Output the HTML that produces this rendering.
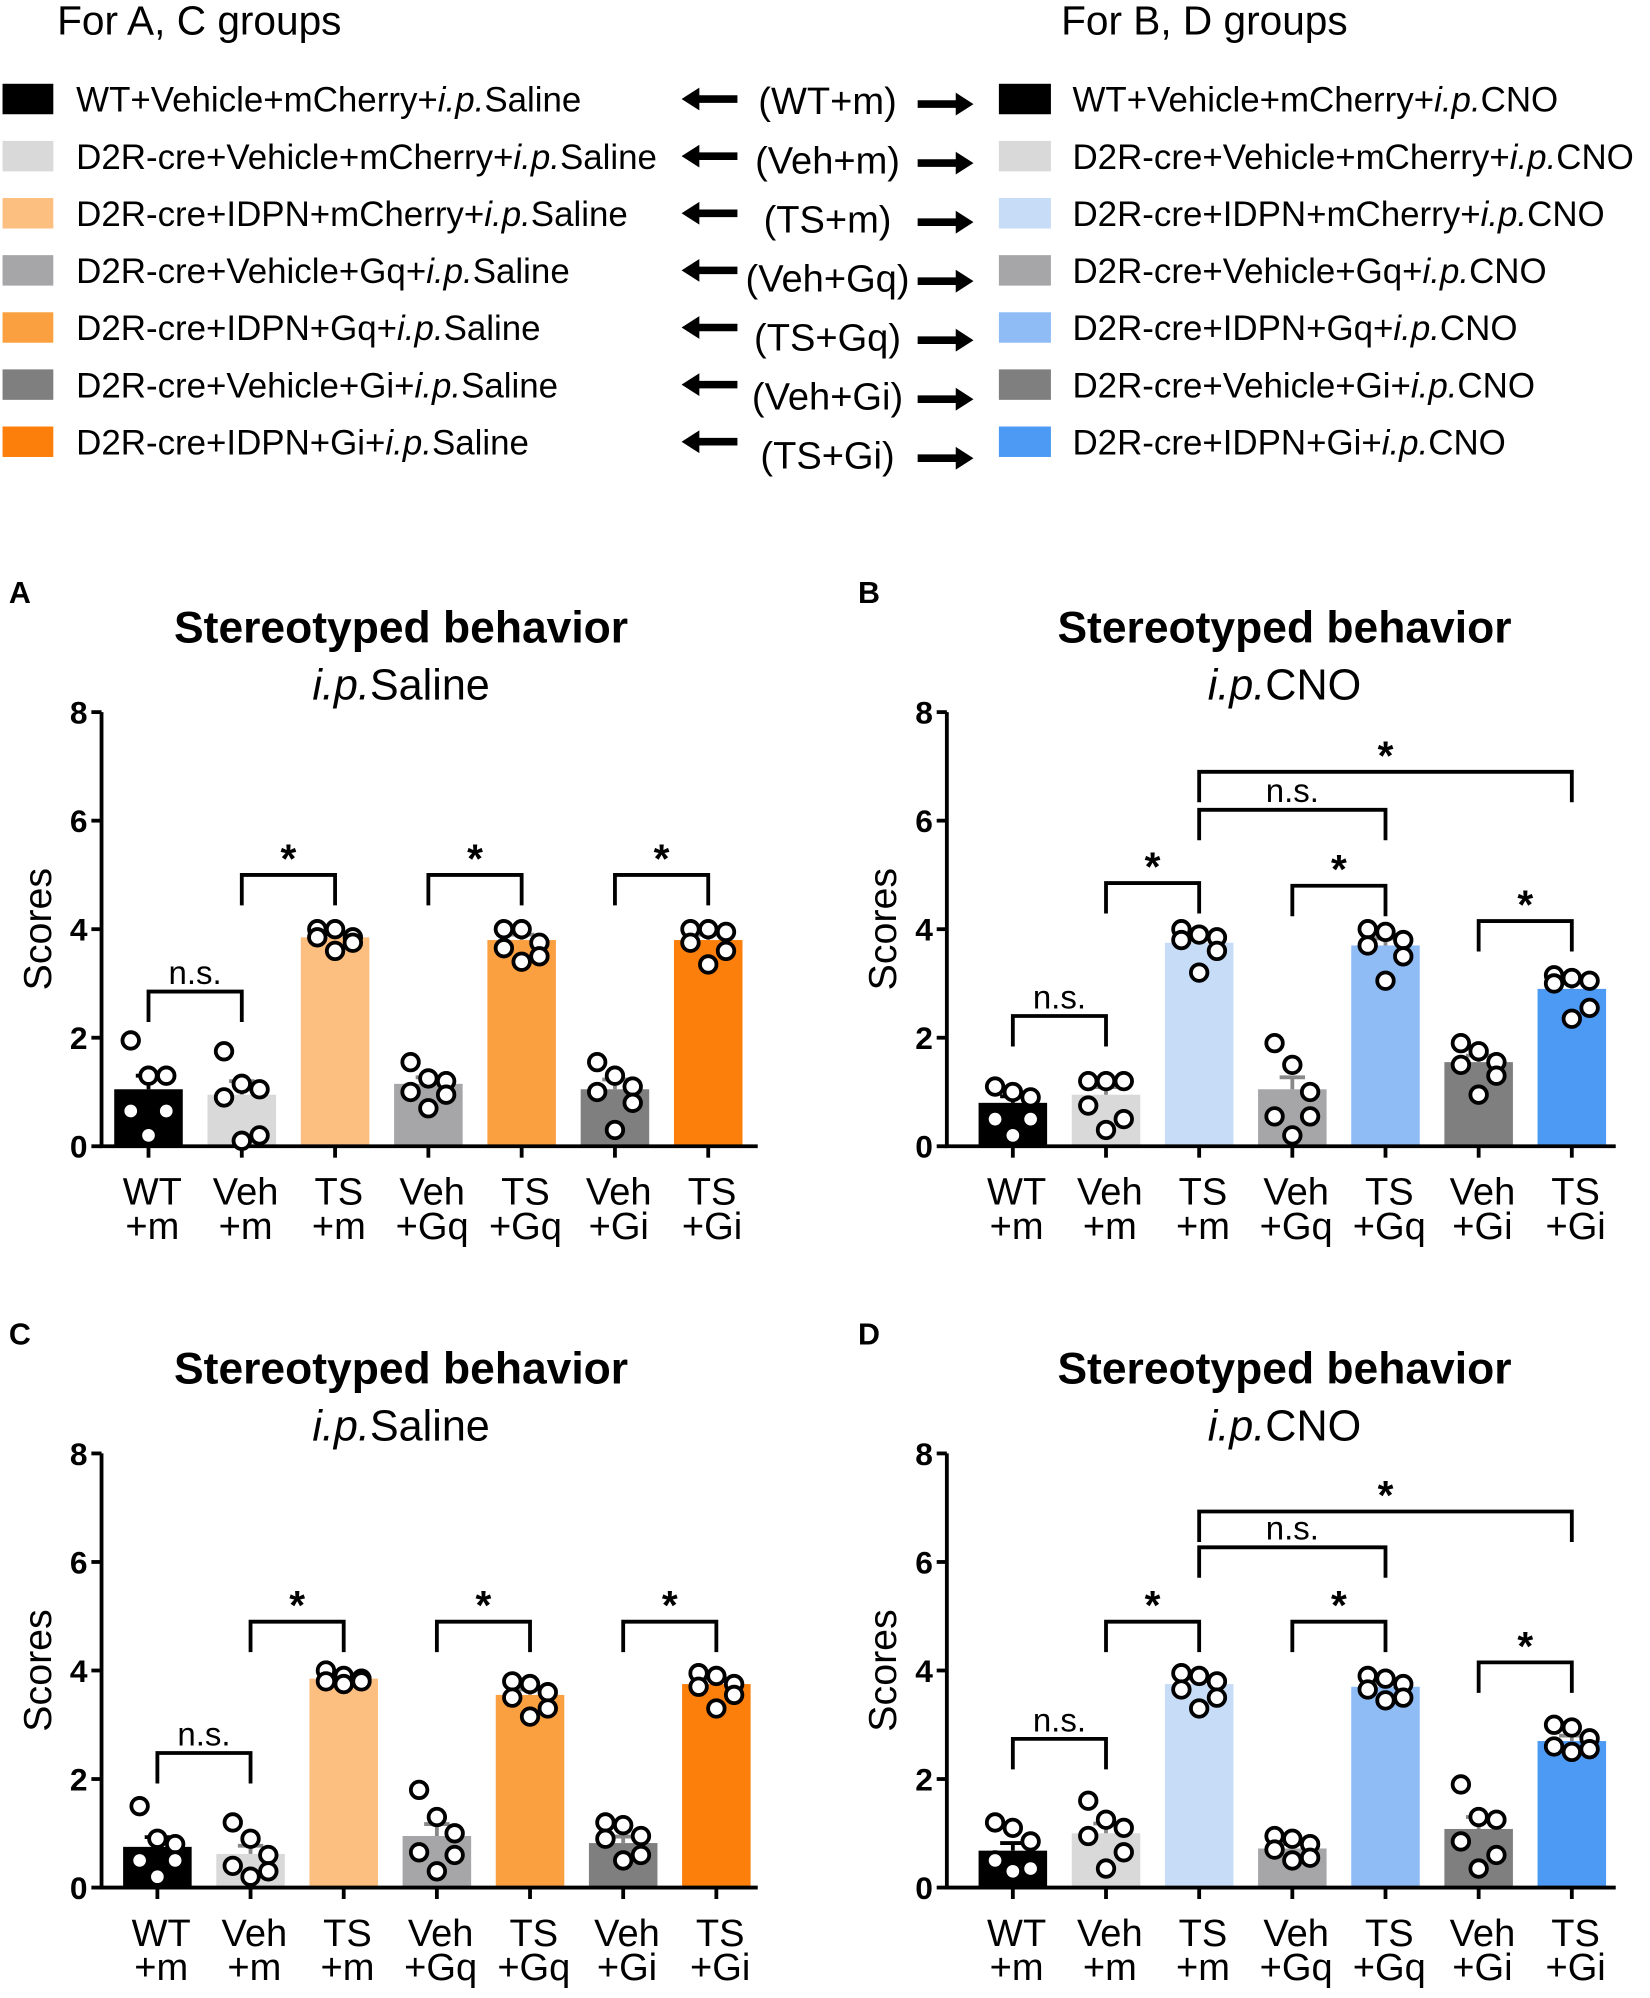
<!DOCTYPE html>
<html><head><meta charset="utf-8"><style>
html,body{margin:0;padding:0;background:#fff}
svg{display:block;font-family:"Liberation Sans",Arial,sans-serif}
</style></head><body>
<svg id="fig" width="1650" height="1998" viewBox="0 0 1300 1574" preserveAspectRatio="none" xmlns="http://www.w3.org/2000/svg">
<g id="legend"></g>
</svg>
<script>
// ---------- data ----------
const categoriesTop = ["WT","Veh","TS","Veh","TS","Veh","TS"];
const categoriesBottom = ["+m","+m","+m","+Gq","+Gq","+Gi","+Gi"];
const yTicks = [0,2,4,6,8];
const salineColors = ["#000000","#d9d9d9","#fcbf80","#a6a6a9","#fba040","#7f7f7f","#fb7f0a"];
const cnoColors = ["#000000","#d9d9d9","#c6dcf7","#a6a6a9","#8fbcf5","#7f7f7f","#4d9af5"];
const legendSaline = ["WT+Vehicle+mCherry+","D2R-cre+Vehicle+mCherry+","D2R-cre+IDPN+mCherry+","D2R-cre+Vehicle+Gq+","D2R-cre+IDPN+Gq+","D2R-cre+Vehicle+Gi+","D2R-cre+IDPN+Gi+"];
const legendMid = ["(WT+m)","(Veh+m)","(TS+m)","(Veh+Gq)","(TS+Gq)","(Veh+Gi)","(TS+Gi)"];

const meansA = [1.05,0.95,3.85,1.15,3.8,1.05,3.8];
const semA = [0.25,0.25,0.06,0.12,0.1,0.18,0.1];
const dotsA = [[1.95,1.3,1.3,0.65,0.65,0.2],[1.75,1.15,1.05,0.9,0.2,0.1],[4.0,4.0,3.85,3.85,3.75,3.6],[1.55,1.25,1.2,1.0,0.95,0.7],[4.0,4.0,3.75,3.65,3.5,3.4],[1.55,1.3,1.1,1.0,0.8,0.3],[4.0,4.0,3.95,3.75,3.6,3.35]];
const bracketsA = [[0,1,2.85,"n.s."],[1,2,5.0,"*"],[3,4,5.0,"*"],[5,6,5.0,"*"]];

const meansB = [0.8,0.95,3.75,1.05,3.7,1.55,2.9];
const semB = [0.12,0.14,0.1,0.22,0.13,0.12,0.12];
const dotsB = [[1.1,1.0,0.9,0.5,0.5,0.2],[1.2,1.2,1.2,0.75,0.5,0.3],[4.0,3.9,3.85,3.8,3.6,3.2],[1.9,1.5,1.0,0.55,0.55,0.2],[4.0,3.95,3.8,3.7,3.5,3.05],[1.9,1.75,1.55,1.5,1.3,0.95],[3.15,3.1,3.05,3.0,2.55,2.35]];
const bracketsB = [[0,1,2.4,"n.s."],[1,2,4.85,"*"],[3,4,4.8,"*"],[5,6,4.15,"*"],[2,4,6.2,"n.s."],[2,6,6.9,"*"]];

const meansC = [0.75,0.62,3.85,0.95,3.55,0.82,3.75];
const semC = [0.18,0.15,0.04,0.22,0.1,0.12,0.1];
const dotsC = [[1.5,0.9,0.8,0.5,0.5,0.2],[1.2,0.9,0.6,0.4,0.3,0.2],[4.0,3.9,3.85,3.8,3.8,3.75],[1.8,1.3,1.0,0.65,0.6,0.3],[3.8,3.75,3.6,3.5,3.3,3.15],[1.2,1.15,0.95,0.9,0.6,0.5],[3.95,3.9,3.75,3.7,3.55,3.3]];
const bracketsC = [[0,1,2.48,"n.s."],[1,2,4.9,"*"],[3,4,4.9,"*"],[5,6,4.9,"*"]];

const meansD = [0.68,1.0,3.75,0.72,3.7,1.08,2.7];
const semD = [0.14,0.18,0.1,0.08,0.08,0.22,0.1];
const dotsD = [[1.2,1.1,0.85,0.5,0.35,0.3],[1.6,1.25,1.1,0.95,0.65,0.35],[3.95,3.9,3.8,3.65,3.5,3.3],[0.95,0.9,0.8,0.7,0.55,0.5],[3.9,3.85,3.75,3.65,3.5,3.45],[1.9,1.3,1.25,0.85,0.6,0.35],[3.0,2.95,2.75,2.6,2.55,2.5]];
const bracketsD = [[0,1,2.74,"n.s."],[1,2,4.9,"*"],[3,4,4.9,"*"],[5,6,4.15,"*"],[2,4,6.27,"n.s."],[2,6,6.93,"*"]];

// ---------- drawing ----------
const NS = "http://www.w3.org/2000/svg";
const svg = document.getElementById("fig");
function mk(tag, attrs, parent, text){
  const e = document.createElementNS(NS, tag);
  for (const k in attrs) e.setAttribute(k, attrs[k]);
  if (text !== undefined) e.textContent = text;
  (parent||svg).appendChild(e);
  return e;
}

// legend
const lg = document.getElementById("legend");
let t = mk("text",{x:45,y:27,"font-size":32},lg,"For A, C groups");


t = mk("text",{x:836,y:27,"font-size":32},lg,"For B, D groups");


for (let i=0;i<7;i++){
  const y = 78 + i*45;
  let r = mk("rect",{x:2,y:y-12,width:40,height:24,fill:salineColors[i]},lg);
  
  
  const tx = mk("text",{x:60,y:y+10,"font-size":27.5},lg);
  
  
  mk("tspan",{},tx,legendSaline[i]);
  mk("tspan",{"font-style":"italic"},tx,"i.p.");
  mk("tspan",{},tx,"Saline");
  r = mk("rect",{x:787,y:y-12,width:41,height:24,fill:cnoColors[i]},lg);
  
  
  const tx2 = mk("text",{x:845,y:y+10,"font-size":27.5},lg);
  
  
  mk("tspan",{},tx2,legendSaline[i]);
  mk("tspan",{"font-style":"italic"},tx2,"i.p.");
  mk("tspan",{},tx2,"CNO");
  const my = y + 2 + i*1.5;
  const m = mk("text",{x:652,y:my+10,"font-size":30,"text-anchor":"middle"},lg,legendMid[i]);
  
  
  const al = mk("path",{d:`M537 ${y} l14 -9 v6 h30 v6 h-30 v6 z`,fill:"#000"},lg);
  
  
  const ar = mk("path",{d:`M767 ${my+2} l-14 -9 v6 h-30 v6 h30 v6 z`,fill:"#000"},lg);
  
  
}

const dotOff = [-14,0,14,-14,14,0];

function panel(cfg){
  const g = mk("g",{});
  
  
  const y0 = cfg.base, unit = 42.75;
  const yS = v => y0 - v*unit;
  const xS = i => cfg.x0 + i*cfg.step;
  let e = mk("text",{x:cfg.lx,y:cfg.base-428,"font-size":24,"font-weight":"bold"},g,cfg.letter);
  
  
  e = mk("text",{x:cfg.tc,y:y0-397,"font-size":35,"font-weight":"bold","text-anchor":"middle"},g,"Stereotyped behavior");
  
  
  e = mk("text",{x:cfg.tc,y:y0-352,"font-size":34,"text-anchor":"middle"},g);
  
  
  mk("tspan",{"font-style":"italic"},e,"i.p.");
  mk("tspan",{},e,cfg.sub);
  e = mk("text",{x:0,y:0,"font-size":31,"text-anchor":"middle",transform:`translate(${cfg.ax-40},${yS(4.0)}) rotate(-90)`},g,"Scores");
  
  
  // bars
  cfg.means.forEach((v,i)=>{
    const b = mk("rect",{x:xS(i)-27,y:yS(v),width:54,height:v*unit,fill:cfg.colors[i]},g);
    
    
    const ec = i===0 ? "#000" : "#888";
    const er = mk("path",{d:`M${xS(i)} ${yS(v)} V${yS(v+cfg.sem[i])} M${xS(i)-10} ${yS(v+cfg.sem[i])} h20`,stroke:ec,"stroke-width":3,fill:"none"},g);
    
    
  });
  // axes
  e = mk("path",{d:`M${cfg.ax} ${yS(8)} V${y0} H${cfg.axEnd}`,stroke:"#000","stroke-width":3,fill:"none"},g);
  
  
  yTicks.forEach(v=>{
    const tk = mk("path",{d:`M${cfg.ax-8} ${yS(v)} H${cfg.ax}`,stroke:"#000","stroke-width":3},g);
    
    
    const tl = mk("text",{x:cfg.ax-11,y:yS(v)+9,"font-size":25,"font-weight":"bold","text-anchor":"end"},g,String(v));
    
    
  });
  categoriesTop.forEach((c,i)=>{
    const tk = mk("path",{d:`M${xS(i)} ${y0} v9`,stroke:"#000","stroke-width":3},g);
    
    
    const l1 = mk("text",{x:xS(i)+3,y:y0+46,"font-size":30,"text-anchor":"middle"},g,c);
    
    
    const l2 = mk("text",{x:xS(i)+3,y:y0+73,"font-size":30,"text-anchor":"middle"},g,categoriesBottom[i]);
    
    
  });
  // dots
  cfg.dots.forEach((arr,i)=>{
    arr.forEach((v,j)=>{
      const d = mk("circle",{cx:xS(i)+dotOff[j],cy:yS(v),r:6.5,fill:"#fff",stroke:"#000","stroke-width":3},g);
      
      
    });
  });
  // brackets
  cfg.brackets.forEach(b=>{
    const [a,c,h,lab] = b;
    const x1 = xS(a), x2 = xS(c), yy = yS(h);
    const p = mk("path",{d:`M${x1} ${yy+24} V${yy} H${x2} V${yy+24}`,stroke:"#000","stroke-width":3,fill:"none"},g);
    
    
    const isStar = lab === "*";
    const tl = mk("text",{x:(x1+x2)/2,y:isStar?yy-2:yy-6,"font-size":isStar?32:26,"font-weight":isStar?"bold":"normal","text-anchor":"middle"},g,lab);
    
    
  });
}

panel({letter:"A",lx:7,sub:"Saline",tc:316,base:903,ax:80,axEnd:597,x0:117,step:73.5,means:meansA,sem:semA,dots:dotsA,brackets:bracketsA,colors:salineColors});
panel({letter:"B",lx:676,sub:"CNO",tc:1012,base:903,ax:746,axEnd:1273,x0:798,step:73.4,means:meansB,sem:semB,dots:dotsB,brackets:bracketsB,colors:cnoColors});
panel({letter:"C",lx:7,sub:"Saline",tc:316,base:1487,ax:80,axEnd:597,x0:124,step:73.4,means:meansC,sem:semC,dots:dotsC,brackets:bracketsC,colors:salineColors});
panel({letter:"D",lx:676,sub:"CNO",tc:1012,base:1487,ax:746,axEnd:1273,x0:798,step:73.4,means:meansD,sem:semD,dots:dotsD,brackets:bracketsD,colors:cnoColors});
</script>
</body></html>
